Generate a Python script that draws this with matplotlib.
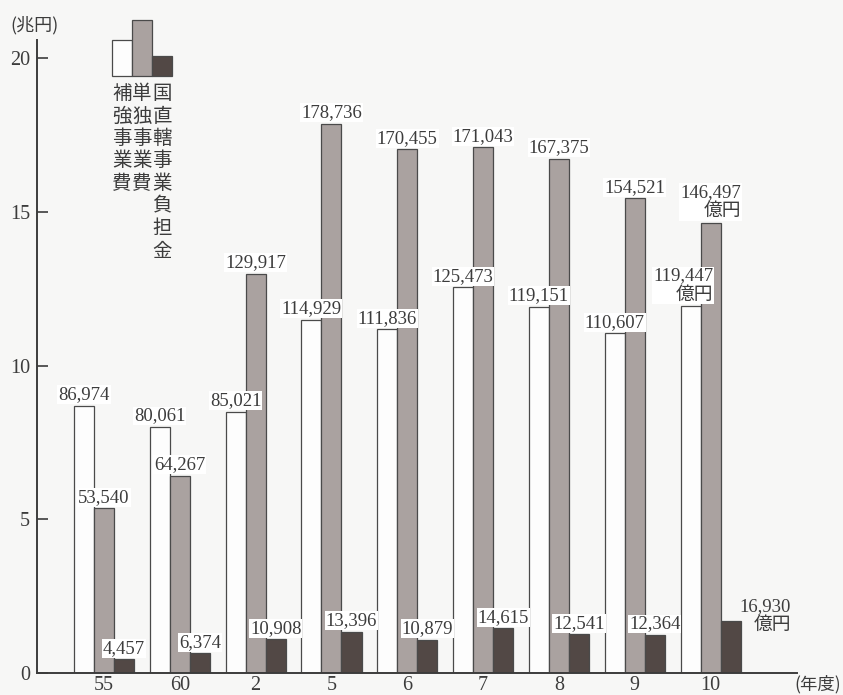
import numpy as np
import matplotlib.pyplot as plt
from matplotlib.patches import Rectangle

# 年度ごとの事業費（億円）
years = ['55', '60', '2', '5', '6', '7', '8', '9', '10']
hokyo = [86974, 80061, 85021, 114929, 111836, 125473, 119151, 110607, 119447]
tandoku = [53540, 64267, 129917, 178736, 170455, 171043, 167375, 154521, 146497]
chokkatsu = [4457, 6374, 10908, 13396, 10879, 14615, 12541, 12364, 16930]

names = ['補強事業費', '単独事業費', '国直轄事業負担金']
colors = ['#fdfdfd', '#aaa2a0', '#524845']

num_font = ['Liberation Serif', 'Noto Sans CJK JP']
jp_font = ['Noto Sans CJK JP', 'DejaVu Sans']
ink = '#3c3c3c'
bg = '#f7f7f6'

fig = plt.figure(figsize=(8.43, 6.95), dpi=100, facecolor=bg)
ax = fig.add_axes([37 / 843, 1 - 673 / 695, 760 / 843, 633 / 695])
ax.set_facecolor(bg)

x = np.arange(len(years))
w = 0.264
series = [hokyo, tandoku, chokkatsu]
for k, vals in enumerate(series):
    h = np.array(vals) / 10000  # 兆円
    ax.bar(x + (k - 1) * w, h, width=w, color=colors[k],
           edgecolor='#4a4a4a', linewidth=0.9, zorder=2)

# 値ラベル
box = dict(boxstyle='square,pad=0.05', fc='white', ec='none')
last = len(years) - 1
for k, vals in enumerate(series):
    for i, v in enumerate(vals):
        xp = x[i] + (k - 1) * w
        yp = v / 10000
        txt = f'{v:,}'
        if i == last and k == 2:
            ax.text(xp + 0.46, yp + 0.15, txt + '\n億円', ha='center', va='center',
                    fontsize=13.5, family=num_font, color=ink, linespacing=1.15,
                    multialignment='right')
            continue
        if i == last:
            txt += '\n億円'
            if k == 0:
                xp -= 0.1
        ax.text(xp, yp + 0.08, txt, ha='center', va='bottom', fontsize=13.5,
                family=num_font, color=ink, linespacing=1.15, zorder=3,
                multialignment='right', bbox=box)

ax.set_xlim(-0.884, 9.14)
ax.set_ylim(0, 20.6)
ax.set_yticks([0, 5, 10, 15, 20])
ax.set_xticks(x)
ax.set_xticklabels(years)
ax.tick_params(axis='y', direction='in', length=8, width=1.2, color=ink,
               labelsize=14.5, labelcolor=ink, pad=5)
ax.tick_params(axis='x', length=0, labelsize=14.5, labelcolor=ink, pad=2)
for lab in ax.get_xticklabels() + ax.get_yticklabels():
    lab.set_family(num_font)
for s in ['top', 'right']:
    ax.spines[s].set_visible(False)
for s in ['left', 'bottom']:
    ax.spines[s].set_color(ink)
    ax.spines[s].set_linewidth(1.4)

# 単位
fig.text(10 / 843, 1 - 25 / 695, '(兆円)', ha='left', va='center',
         fontsize=13, family=jp_font, color=ink)
fig.text(841 / 843, 1 - 684 / 695, '(年度)', ha='right', va='center',
         fontsize=12.5, family=jp_font, color=ink)

# 凡例（縦書き）
ov = fig.add_axes([0, 0, 1, 1])
ov.set_xlim(0, 843)
ov.set_ylim(695, 0)
ov.axis('off')
ov.patch.set_alpha(0)
leg_tops = [40, 20, 56]
for k in range(3):
    x0 = 112 + 20 * k
    ov.add_patch(Rectangle((x0, leg_tops[k]), 20, 76 - leg_tops[k],
                           facecolor=colors[k], edgecolor='#4a4a4a', linewidth=0.9))
    for j, ch in enumerate(names[k]):
        ov.text(x0 + 10, 83 + 22.5 * j, ch, ha='center', va='top',
                fontsize=14, family=jp_font, color=ink)

fig.savefig('out.png', dpi=100, facecolor=bg)
